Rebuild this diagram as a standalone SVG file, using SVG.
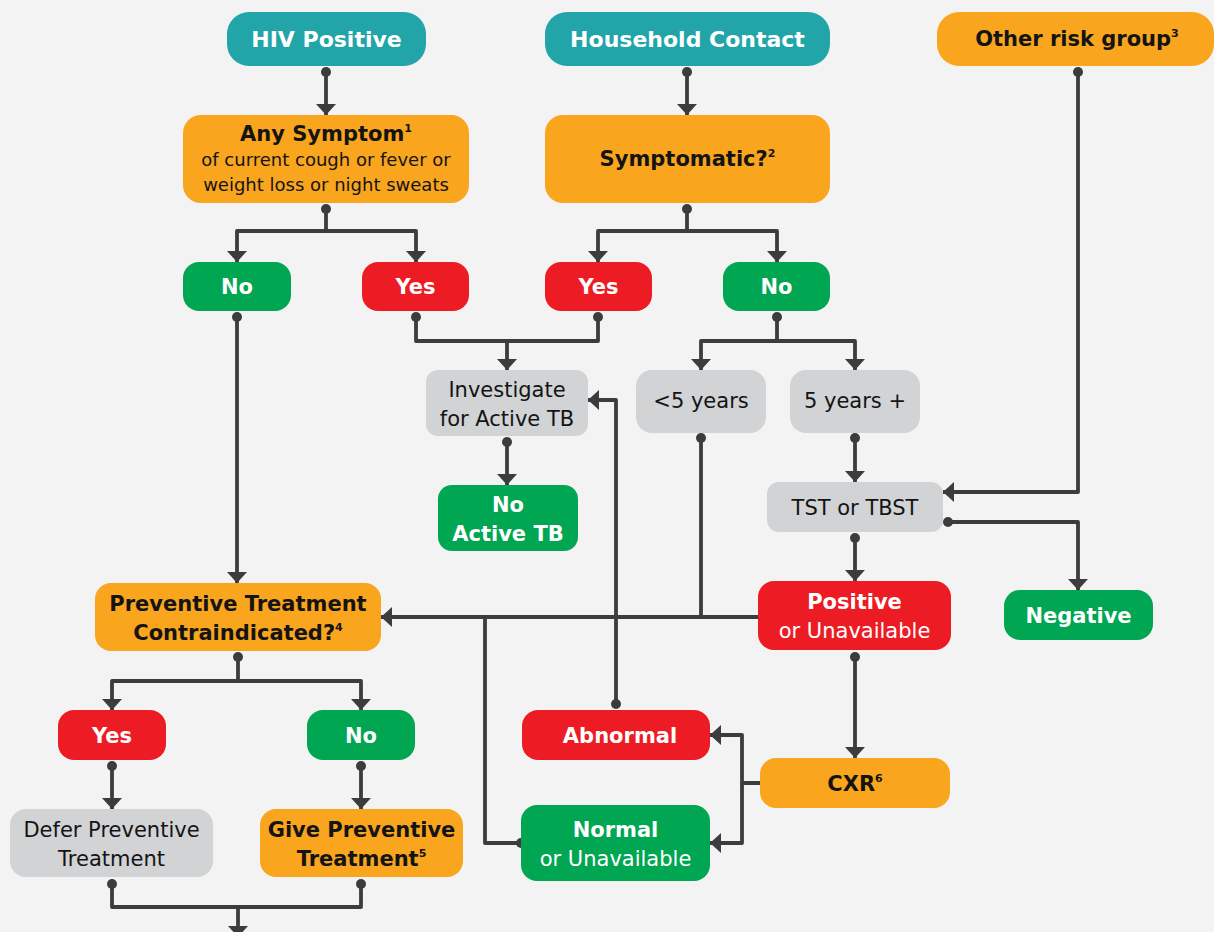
<svg xmlns="http://www.w3.org/2000/svg" width="1214" height="932" viewBox="0 0 1214 932">
  <style>
    .teal { fill: #22a5a8; }
    .orange { fill: #f9a51d; }
    .green { fill: #00a651; }
    .red { fill: #ed1c24; }
    .gray { fill: #d1d3d4; }
    text { font-family: "DejaVu Sans", "Liberation Sans", sans-serif; text-anchor: middle; }
    .b { font-weight: bold; font-size: 21px; }
    .top { font-weight: bold; font-size: 22px; }
    .r { font-size: 21px; }
    .s { font-size: 18px; }
    .w { fill: #ffffff; }
    .k { fill: #141414; }
    .sup { font-size: 11px; }
    .link { fill: none; stroke: #3c3c3e; stroke-width: 3.8; stroke-linejoin: round; }
  </style>
  <defs>
    <marker id="arrow" viewBox="0 0 11 20" refX="11" refY="10" markerWidth="11" markerHeight="20" orient="auto" markerUnits="userSpaceOnUse">
      <path d="M0,0 L11,10 L0,20 z" fill="#3c3c3e"/>
    </marker>
    <marker id="dot" viewBox="0 0 10 10" refX="5" refY="5" markerWidth="10" markerHeight="10" orient="auto" markerUnits="userSpaceOnUse">
      <circle cx="5" cy="5" r="5" fill="#3c3c3e"/>
    </marker>
  </defs>

  <rect width="1214" height="932" fill="#f3f3f3"/>

  <!-- connectors -->
  <g id="connectors">
    <path class="link" d="M326,72 V115" marker-start="url(#dot)" marker-end="url(#arrow)"/>
    <path class="link" d="M687,72 V115" marker-start="url(#dot)" marker-end="url(#arrow)"/>
    <path class="link" d="M1078,72 V492 H943" marker-start="url(#dot)" marker-end="url(#arrow)"/>

    <path class="link" d="M326,209 V231 H237 V262" marker-start="url(#dot)" marker-end="url(#arrow)"/>
    <path class="link" d="M326,231 H416 V262" marker-end="url(#arrow)"/>
    <path class="link" d="M687,209 V231 H598 V262" marker-start="url(#dot)" marker-end="url(#arrow)"/>
    <path class="link" d="M687,231 H777 V262" marker-end="url(#arrow)"/>

    <path class="link" d="M237,317 V583" marker-start="url(#dot)" marker-end="url(#arrow)"/>
    <path class="link" d="M416,317 V341 H598 V317" marker-start="url(#dot)" marker-end="url(#dot)"/>
    <path class="link" d="M507,341 V370" marker-end="url(#arrow)"/>
    <path class="link" d="M507,442 V485" marker-start="url(#dot)" marker-end="url(#arrow)"/>

    <path class="link" d="M777,317 V341 H701 V370" marker-start="url(#dot)" marker-end="url(#arrow)"/>
    <path class="link" d="M777,341 H855 V370" marker-end="url(#arrow)"/>
    <path class="link" d="M701,438 V617" marker-start="url(#dot)"/>
    <path class="link" d="M855,438 V482" marker-start="url(#dot)" marker-end="url(#arrow)"/>
    <path class="link" d="M855,538 V581" marker-start="url(#dot)" marker-end="url(#arrow)"/>
    <path class="link" d="M948,522 H1078 V590" marker-start="url(#dot)" marker-end="url(#arrow)"/>

    <path class="link" d="M758,617 H381" marker-end="url(#arrow)"/>
    <path class="link" d="M521,843 H485 V617" marker-start="url(#dot)"/>
    <path class="link" d="M616,704 V400 H588" marker-start="url(#dot)" marker-end="url(#arrow)"/>
    <path class="link" d="M855,657 V758" marker-start="url(#dot)" marker-end="url(#arrow)"/>
    <path class="link" d="M760,783 H742 V735 H710" marker-end="url(#arrow)"/>
    <path class="link" d="M742,783 V843 H710" marker-end="url(#arrow)"/>

    <path class="link" d="M238,657 V681 H112 V710" marker-start="url(#dot)" marker-end="url(#arrow)"/>
    <path class="link" d="M238,681 H361 V710" marker-end="url(#arrow)"/>
    <path class="link" d="M112,766 V809" marker-start="url(#dot)" marker-end="url(#arrow)"/>
    <path class="link" d="M361,766 V809" marker-start="url(#dot)" marker-end="url(#arrow)"/>
    <path class="link" d="M112,884 V907 H361 V884" marker-start="url(#dot)" marker-end="url(#dot)"/>
    <path class="link" d="M238,907 V937" marker-end="url(#arrow)"/>
  </g>

  <!-- entry groups -->
  <g id="hiv-positive">
    <rect class="teal" x="227" y="12" width="199" height="54" rx="22"/>
    <text class="top w" x="326.5" y="47">HIV Positive</text>
  </g>
  <g id="household-contact">
    <rect class="teal" x="545" y="12" width="285" height="54" rx="22"/>
    <text class="top w" x="687.5" y="47">Household Contact</text>
  </g>
  <g id="other-risk-group">
    <rect class="orange" x="937" y="12" width="277" height="54" rx="22"/>
    <text class="b k" x="1077" y="46">Other risk group<tspan class="sup" dy="-9">3</tspan></text>
  </g>

  <!-- screening -->
  <g id="any-symptom">
    <rect class="orange" x="183" y="115" width="286" height="88" rx="18"/>
    <text class="b k" x="326" y="141">Any Symptom<tspan class="sup" dy="-9">1</tspan></text>
    <text class="s k" x="326" y="166">of current cough or fever or</text>
    <text class="s k" x="326" y="191">weight loss or night sweats</text>
  </g>
  <g id="symptomatic">
    <rect class="orange" x="545" y="115" width="285" height="88" rx="18"/>
    <text class="b k" x="687.5" y="166">Symptomatic?<tspan class="sup" dy="-9">2</tspan></text>
  </g>

  <g id="hiv-no">
    <rect class="green" x="183" y="262" width="108" height="49" rx="16"/>
    <text class="b w" x="237" y="294">No</text>
  </g>
  <g id="hiv-yes">
    <rect class="red" x="362" y="262" width="107" height="49" rx="16"/>
    <text class="b w" x="415.5" y="294">Yes</text>
  </g>
  <g id="contact-yes">
    <rect class="red" x="545" y="262" width="107" height="49" rx="16"/>
    <text class="b w" x="598.5" y="294">Yes</text>
  </g>
  <g id="contact-no">
    <rect class="green" x="723" y="262" width="107" height="49" rx="16"/>
    <text class="b w" x="776.5" y="294">No</text>
  </g>

  <g id="investigate">
    <rect class="gray" x="426" y="370" width="162" height="66" rx="12"/>
    <text class="r k" x="507" y="397">Investigate</text>
    <text class="r k" x="507" y="426">for Active TB</text>
  </g>
  <g id="under-five">
    <rect class="gray" x="636" y="370" width="130" height="63" rx="16"/>
    <text class="r k" x="701" y="408">&lt;5 years</text>
  </g>
  <g id="five-plus">
    <rect class="gray" x="790" y="370" width="130" height="63" rx="16"/>
    <text class="r k" x="855" y="408">5 years +</text>
  </g>
  <g id="no-active-tb">
    <rect class="green" x="438" y="485" width="140" height="66" rx="14"/>
    <text class="b w" x="508" y="512">No</text>
    <text class="b w" x="508" y="541">Active TB</text>
  </g>

  <!-- testing -->
  <g id="tst-tbst">
    <rect class="gray" x="767" y="482" width="176" height="50" rx="12"/>
    <text class="r k" x="855" y="515">TST or TBST</text>
  </g>
  <g id="test-positive">
    <rect class="red" x="758" y="581" width="193" height="69" rx="16"/>
    <text class="b w" x="854.5" y="609">Positive</text>
    <text class="r w" x="854.5" y="638">or Unavailable</text>
  </g>
  <g id="test-negative">
    <rect class="green" x="1004" y="590" width="149" height="50" rx="16"/>
    <text class="b w" x="1078.5" y="623">Negative</text>
  </g>
  <g id="cxr">
    <rect class="orange" x="760" y="758" width="190" height="50" rx="16"/>
    <text class="b k" x="855" y="791">CXR<tspan class="sup" dy="-9">6</tspan></text>
  </g>
  <g id="cxr-abnormal">
    <rect class="red" x="522" y="710" width="188" height="50" rx="16"/>
    <text class="b w" x="620" y="743">Abnormal</text>
  </g>
  <g id="cxr-normal">
    <rect class="green" x="521" y="805" width="189" height="76" rx="16"/>
    <text class="b w" x="615.5" y="837">Normal</text>
    <text class="r w" x="615.5" y="866">or Unavailable</text>
  </g>

  <!-- treatment decision -->
  <g id="contraindicated">
    <rect class="orange" x="95" y="583" width="286" height="68" rx="16"/>
    <text class="b k" x="238" y="611">Preventive Treatment</text>
    <text class="b k" x="238" y="640">Contraindicated?<tspan class="sup" dy="-9">4</tspan></text>
  </g>
  <g id="treat-yes">
    <rect class="red" x="58" y="710" width="108" height="50" rx="16"/>
    <text class="b w" x="112" y="743">Yes</text>
  </g>
  <g id="treat-no">
    <rect class="green" x="307" y="710" width="108" height="50" rx="16"/>
    <text class="b w" x="361" y="743">No</text>
  </g>
  <g id="defer-treatment">
    <rect class="gray" x="10" y="809" width="203" height="68" rx="16"/>
    <text class="r k" x="111.5" y="837">Defer Preventive</text>
    <text class="r k" x="111.5" y="866">Treatment</text>
  </g>
  <g id="give-treatment">
    <rect class="orange" x="260" y="809" width="203" height="68" rx="16"/>
    <text class="b k" x="361.5" y="837">Give Preventive</text>
    <text class="b k" x="361.5" y="866">Treatment<tspan class="sup" dy="-9">5</tspan></text>
  </g>
</svg>
